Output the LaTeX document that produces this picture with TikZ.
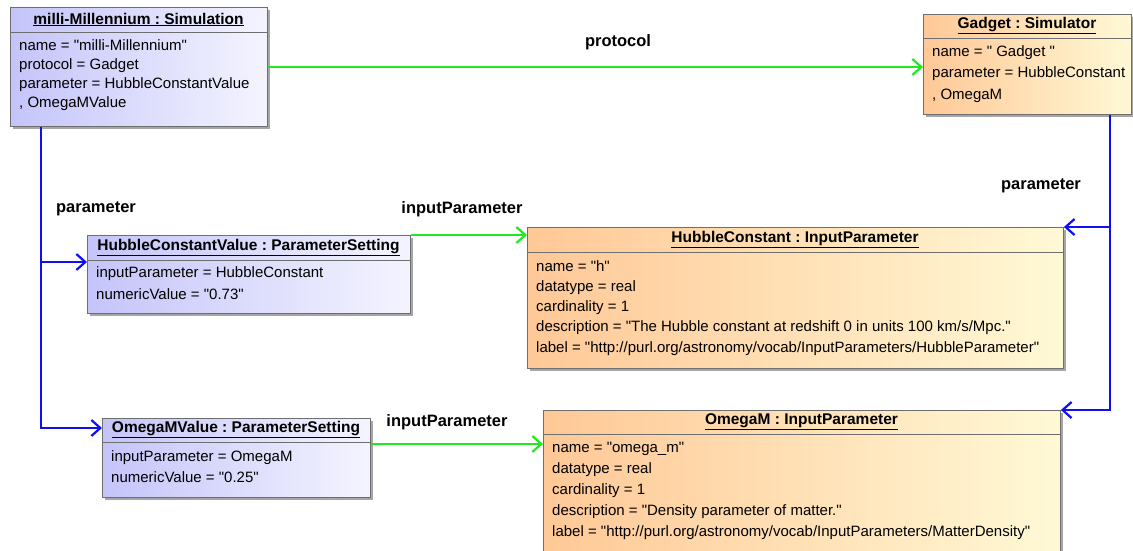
\documentclass[tikz,border=0pt]{standalone}
\usepackage{fontspec}
\setmainfont{Liberation Sans}[Ligatures=TeXOff]
\usepackage{tikz}
\usetikzlibrary{shapes,arrows,arrows.meta,positioning,calc,shadows}
\frenchspacing

\definecolor{setblue}{RGB}{196,196,250}
\definecolor{setwhite}{RGB}{244,244,255}
\definecolor{paramorange}{RGB}{255,200,150}
\definecolor{paramcream}{RGB}{255,249,214}
\definecolor{linkgreen}{RGB}{30,235,30}
\definecolor{linkblue}{RGB}{15,15,245}
\definecolor{boxedge}{RGB}{110,110,110}

\tikzset{
  objbox/.style={draw=boxedge, line width=0.9pt, anchor=north west, inner sep=0pt,
    drop shadow={shadow xshift=3pt, shadow yshift=-3pt, fill=black!35, opacity=1}},
  settingbox/.style={objbox, left color=setblue, right color=setwhite},
  parambox/.style={objbox, left color=paramorange, right color=paramcream},
  divline/.style={draw=boxedge, line width=0.9pt},
  head/.style={font=\fontsize{15.5}{18}\selectfont\bfseries, inner sep=0pt},
  attr/.style={font=\fontsize{15}{#1}\selectfont, align=left, anchor=north west, inner sep=0pt},
  attr/.default=20.5,
  linklabel/.style={font=\fontsize{16.5}{18}\selectfont\bfseries, inner sep=0pt},
  greenlink/.style={linkgreen, line width=2.2pt, -{Straight Barb[length=9pt,width=16pt]}},
  bluelink/.style={linkblue, line width=2.2pt, -{Straight Barb[length=9pt,width=16pt]}}
}

\begin{document}
\begin{tikzpicture}[x=1pt, y=-1pt]
    \useasboundingbox (0,0) rectangle (1133,550);

    % Simulation and simulator
    \node[settingbox, minimum width=257pt, minimum height=119pt] (milli) at (10,7) {};
    \draw[divline] ([yshift=-25pt]milli.north west) -- ([yshift=-25pt]milli.north east);
    \node[head] (millihead) at (138.5,19.5) {\underline{milli-Millennium : Simulation}};
    \node[attr=19.3] (milliattr) at (19,39) {name = "milli-Millennium"\\protocol = Gadget\\parameter = HubbleConstantValue\\, OmegaMValue};

    \node[parambox, minimum width=208pt, minimum height=100pt] (gadget) at (923,14) {};
    \draw[divline] ([yshift=-24pt]gadget.north west) -- ([yshift=-24pt]gadget.north east);
    \node[head] (gadgethead) at (1027,26) {\underline{Gadget : Simulator}};
    \node[attr=21.5] (gadgetattr) at (932,45) {name = " Gadget "\\parameter = HubbleConstant\\, OmegaM};

    % Parameter settings
    \node[settingbox, minimum width=323pt, minimum height=78pt] (hubv) at (87,235) {};
    \draw[divline] ([yshift=-25pt]hubv.north west) -- ([yshift=-25pt]hubv.north east);
    \node[head] (hubvhead) at (248.5,247.5) {\underline{HubbleConstantValue : ParameterSetting}};
    \node[attr=22] (hubvattr) at (96,266) {inputParameter = HubbleConstant\\numericValue = "0.73"};

    \node[settingbox, minimum width=268pt, minimum height=79pt] (omv) at (102,418) {};
    \draw[divline] ([yshift=-24pt]omv.north west) -- ([yshift=-24pt]omv.north east);
    \node[head] (omvhead) at (236,430) {\underline{OmegaMValue : ParameterSetting}};
    \node[attr=21] (omvattr) at (111,450) {inputParameter = OmegaM\\numericValue = "0.25"};

    % Input parameters
    \node[parambox, minimum width=536pt, minimum height=141pt] (hubc) at (527,227) {};
    \draw[divline] ([yshift=-25pt]hubc.north west) -- ([yshift=-25pt]hubc.north east);
    \node[head] (hubchead) at (795,239.5) {\underline{HubbleConstant : InputParameter}};
    \node[attr=20.25] (hubcattr) at (536,260) {name = "h"\\datatype = real\\cardinality = 1\\description = "The Hubble constant at redshift 0 in units 100 km/s/Mpc."\\label = "http://purl.org/astronomy/vocab/InputParameters/HubbleParameter"};

    \node[parambox, minimum width=517pt, minimum height=160pt] (omc) at (543,410) {};
    \draw[divline] ([yshift=-24pt]omc.north west) -- ([yshift=-24pt]omc.north east);
    \node[head] (omchead) at (801.5,422) {\underline{OmegaM : InputParameter}};
    \node[attr=21] (omcattr) at (552,442) {name = "omega\_m"\\datatype = real\\cardinality = 1\\description = "Density parameter of matter."\\label = "http://purl.org/astronomy/vocab/InputParameters/MatterDensity"};

    % Links
    \coordinate (leftsplit) at (41,262);
    \coordinate (leftcorner) at (41,428);
    \coordinate (rightsplit) at (1110,227);
    \coordinate (rightcorner) at (1110,410);

    \draw[greenlink] (milli.east) -- (milli.east -| gadget.west);
    \draw[bluelink] (milli.south -| leftsplit) -- (leftcorner) -- (leftcorner -| omv.west);
    \draw[bluelink] (leftsplit) -- (leftsplit -| hubv.west);
    \draw[bluelink] (gadget.south -| rightsplit) -- (rightcorner) -- (omc.north east);
    \draw[bluelink] (rightsplit) -- (hubc.north east);
    \draw[greenlink] (hubv.north east) -- (hubv.north east -| hubc.west);
    \draw[greenlink] ([yshift=-26pt]omv.north east) -- ([yshift=-34pt]omc.north west);

    % Labels
    \node[linklabel] (protolabel) at (618,42) {protocol};
    \node[linklabel] (leftparamlabel) at (96,209) {parameter};
    \node[linklabel] (rightparamlabel) at (1041,186) {parameter};
    \node[linklabel] (hubinlabel) at (462,209) {inputParameter};
    \node[linklabel] (ominlabel) at (447,422) {inputParameter};
\end{tikzpicture}
\end{document}
